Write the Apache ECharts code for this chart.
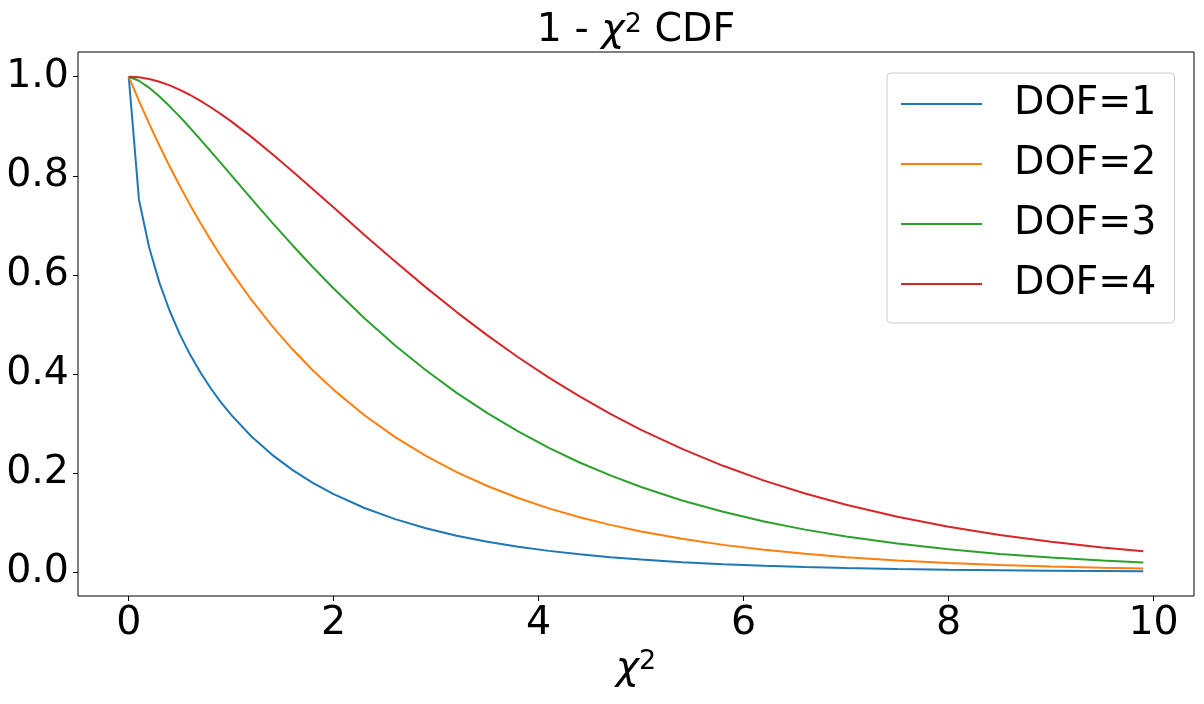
<!DOCTYPE html>
<html>
<head>
<meta charset="utf-8">
<title>1 - chi2 CDF</title>
<script src="https://cdn.jsdelivr.net/npm/echarts@6/dist/echarts.min.js"></script>
<style>
  html, body { margin: 0; padding: 0; background: #fff; }
  #chart { width: 1204px; height: 704px; }
</style>
</head>
<body>
<div id="chart"></div>
<script>
// chi^2 values where the curves were read
const chiSq = [0, 0.1, 0.2, 0.3, 0.4, 0.5, 0.6, 0.7, 0.8, 0.9, 1.0, 1.2, 1.4, 1.6, 1.8, 2.0,
  2.3, 2.6, 2.9, 3.2, 3.5, 3.8, 4.1, 4.4, 4.7, 5.0, 5.4, 5.8, 6.2, 6.6, 7.0, 7.5, 8.0, 8.5,
  9.0, 9.5, 9.9];

// 1 - CDF for each degree of freedom
const dof1 = [1, 0.7518, 0.6547, 0.5839, 0.5271, 0.4795, 0.4386, 0.4028, 0.3711, 0.3428, 0.3173,
  0.2733, 0.2367, 0.2059, 0.1797, 0.1573, 0.1294, 0.1069, 0.0886, 0.0736, 0.0614, 0.0513,
  0.0429, 0.0359, 0.0302, 0.0253, 0.0201, 0.0160, 0.0128, 0.0102, 0.0082, 0.0062, 0.0047,
  0.0036, 0.0027, 0.0021, 0.0017];
const dof2 = [1, 0.9512, 0.9048, 0.8607, 0.8187, 0.7788, 0.7408, 0.7047, 0.6703, 0.6376, 0.6065,
  0.5488, 0.4966, 0.4493, 0.4066, 0.3679, 0.3166, 0.2725, 0.2346, 0.2019, 0.1738, 0.1496,
  0.1287, 0.1108, 0.0954, 0.0821, 0.0672, 0.0550, 0.0450, 0.0369, 0.0302, 0.0235, 0.0183,
  0.0143, 0.0111, 0.0087, 0.0071];
const dof3 = [1, 0.9918, 0.9776, 0.9600, 0.9402, 0.9189, 0.8964, 0.8732, 0.8495, 0.8254, 0.8013,
  0.7530, 0.7055, 0.6594, 0.6149, 0.5724, 0.5125, 0.4575, 0.4074, 0.3618, 0.3208, 0.2840,
  0.2508, 0.2213, 0.1952, 0.1718, 0.1447, 0.1217, 0.1022, 0.0858, 0.0719, 0.0576, 0.0460,
  0.0368, 0.0293, 0.0234, 0.0195];
const dof4 = [1, 0.9988, 0.9953, 0.9898, 0.9825, 0.9735, 0.9631, 0.9513, 0.9384, 0.9246, 0.9098,
  0.8781, 0.8442, 0.8088, 0.7725, 0.7358, 0.6807, 0.6268, 0.5748, 0.5249, 0.4779, 0.4338,
  0.3925, 0.3546, 0.3195, 0.2873, 0.2487, 0.2146, 0.1847, 0.1586, 0.1359, 0.1117, 0.0916,
  0.0749, 0.0611, 0.0497, 0.0421];

const seriesNames = ["DOF=1", "DOF=2", "DOF=3", "DOF=4"];
const seriesValues = [dof1, dof2, dof3, dof4];
const colors = ["#1f77b4", "#ff7f0e", "#2ca02c", "#d62728"];

const xTicks = [0, 2, 4, 6, 8, 10];
const yTicks = [0, 0.2, 0.4, 0.6, 0.8, 1.0];

const font = "DejaVu Sans";
const bigSize = 39.5;
const supSize = 27;

// italic chi with a raised superscript 2, like matplotlib mathtext
const mathRich = {
  i: { fontFamily: font, fontSize: bigSize, fontStyle: "italic", color: "#000" },
  sup: { fontFamily: font, fontSize: supSize, lineHeight: 19, color: "#000", verticalAlign: "top" }
};

let chart = echarts.init(document.getElementById("chart"), null, { renderer: "canvas" });

let option = {
  animation: false,
  backgroundColor: "#fff",
  color: colors,
  textStyle: { fontFamily: font },
  title: {
    text: "1 - {i|χ}{sup|2} CDF",
    left: 631,
    textAlign: "center",
    top: 6,
    textStyle: {
      fontFamily: font,
      fontSize: bigSize,
      fontWeight: "normal",
      color: "#000",
      rich: mathRich
    }
  },
  legend: {
    orient: "vertical",
    left: 887,
    top: 73,
    padding: [7, 18, 15, 14],
    itemGap: 12,
    itemWidth: 81,
    itemHeight: 2,
    icon: "rect",
    backgroundColor: "rgba(255,255,255,0.8)",
    borderColor: "#cccccc",
    borderWidth: 1,
    borderRadius: 4,
    data: seriesNames,
    textStyle: {
      fontFamily: font,
      fontSize: bigSize,
      lineHeight: 48,
      color: "#000",
      padding: [0, 0, 0, 27]
    }
  },
  grid: {
    left: 78,
    right: 10,
    top: 52,
    bottom: 108,
    show: true,
    borderColor: "#000",
    borderWidth: 1,
    backgroundColor: "transparent"
  },
  xAxis: {
    type: "value",
    min: -0.495,
    max: 10.395,
    name: "{i|χ}{sup|2}",
    nameLocation: "middle",
    nameGap: 52,
    nameTextStyle: { rich: mathRich },
    axisLine: { show: false, onZero: false },
    splitLine: { show: false },
    axisTick: {
      show: true,
      length: 5,
      customValues: xTicks,
      lineStyle: { color: "#000", width: 1 }
    },
    axisLabel: {
      customValues: xTicks,
      margin: 8,
      fontFamily: font,
      fontSize: bigSize,
      color: "#000",
      formatter: function (v) { return String(v); }
    }
  },
  yAxis: {
    type: "value",
    min: -0.0482,
    max: 1.0499,
    axisLine: { show: false, onZero: false },
    splitLine: { show: false },
    axisTick: {
      show: true,
      length: 5,
      customValues: yTicks,
      lineStyle: { color: "#000", width: 1 }
    },
    axisLabel: {
      customValues: yTicks,
      margin: 9,
      fontFamily: font,
      fontSize: bigSize,
      color: "#000",
      formatter: function (v) { return v.toFixed(1); }
    }
  },
  series: seriesNames.map(function (name, k) {
    return {
      name: name,
      type: "line",
      showSymbol: false,
      symbol: "none",
      lineStyle: { width: 2, color: colors[k] },
      itemStyle: { color: colors[k] },
      data: chiSq.map(function (x, i) { return [x, seriesValues[k][i]]; })
    };
  })
};

chart.setOption(option, true);
</script>
</body>
</html>
